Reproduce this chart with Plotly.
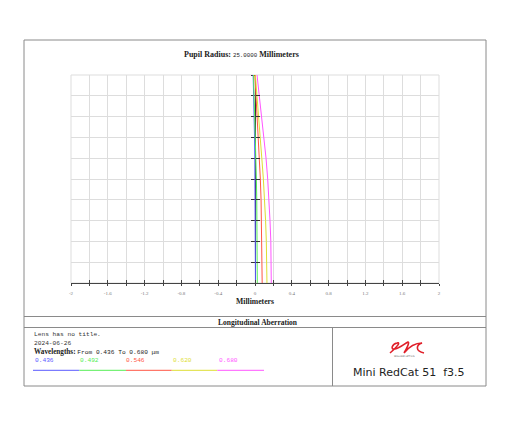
import plotly.graph_objects as go

# ---------------- data ----------------
pupil = [0.0, 0.1, 0.2, 0.3, 0.4, 0.5, 0.6, 0.7, 0.8, 0.9, 1.0]
wl_labels = ["0.436", "0.492", "0.546", "0.620", "0.680"]
wl_colors = ["#5a5aff", "#55ee55", "#ff5544", "#dede33", "#ff55ff"]
focus_436 = [0.005, 0.005, 0.004, 0.003, 0.002, 0.000, -0.002, -0.005, -0.009, -0.014, -0.020]
focus_492 = [0.025, 0.025, 0.024, 0.022, 0.019, 0.015, 0.010, 0.004, -0.003, -0.010, -0.016]
focus_546 = [0.078, 0.077, 0.075, 0.071, 0.066, 0.058, 0.048, 0.037, 0.024, 0.011, -0.002]
focus_620 = [0.130, 0.128, 0.123, 0.115, 0.105, 0.091, 0.074, 0.055, 0.034, 0.015, 0.004]
focus_680 = [0.177, 0.176, 0.172, 0.163, 0.152, 0.138, 0.120, 0.097, 0.073, 0.047, 0.022]
series = [focus_436, focus_492, focus_546, focus_620, focus_680]
x_tickvals = [round(-2 + 0.2 * i, 1) for i in range(21)]
x_ticklabels = ["-2", "", "-1.6", "", "-1.2", "", "-0.8", "", "-0.4", "", "0",
                "", "0.4", "", "0.8", "", "1.2", "", "1.6", "", "2"]

# ---------------- layout helpers ----------------
W, H = 512, 427
PL, PR, PT, PB = 71, 439, 75, 283


def px(x):
    return (x - PL) / (PR - PL)


def py(y):
    return (PB - y) / (PB - PT)


fig = go.Figure()
for vals, col, lab in zip(series, wl_colors, wl_labels):
    fig.add_trace(go.Scatter(x=vals, y=pupil, mode="lines", name=lab,
                             line=dict(color=col, width=1), showlegend=False,
                             hoverinfo="skip"))

SERIF = "Liberation Serif"
MONO = "Liberation Mono"

fig.update_layout(
    width=W, height=H,
    margin=dict(l=PL, r=W - PR, t=PT, b=H - PB, pad=0),
    paper_bgcolor="white", plot_bgcolor="white",
    showlegend=False,
    xaxis=dict(range=[-2, 2], tickmode="array", tickvals=x_tickvals,
               ticktext=x_ticklabels, showgrid=True, gridcolor="#dddddd",
               gridwidth=1, zeroline=False, showline=True, linecolor="#444444",
               linewidth=1, ticks="inside", ticklen=3, tickcolor="#444444",
               ticklabelstandoff=5,
               tickfont=dict(family=SERIF, size=5, color="#777777"),
               fixedrange=True),
    xaxis2=dict(range=[-2, 2], tickmode="array", tickvals=x_tickvals,
                overlaying="x", anchor="y", side="bottom", showgrid=False,
                zeroline=False, showline=False, showticklabels=False,
                ticks="outside", ticklen=2, tickcolor="#444444",
                fixedrange=True),
    yaxis=dict(range=[0, 1], dtick=0.1, showgrid=True, gridcolor="#dddddd",
               gridwidth=1, zeroline=False, showticklabels=False,
               anchor="free", position=0.5, showline=True, linecolor="#333333",
               linewidth=1, ticks="outside", ticklen=4, tickcolor="#333333",
               layer="below traces", fixedrange=True),
    yaxis2=dict(range=[0, 1], dtick=0.1, overlaying="y", anchor="free",
                position=0.5, showgrid=False, zeroline=False,
                showticklabels=False, showline=False, ticks="inside",
                ticklen=4, tickcolor="#333333", side="left", fixedrange=True),
)
# invisible helper traces to activate the overlay axes
fig.add_trace(go.Scatter(x=[None], y=[None], yaxis="y2", showlegend=False))
fig.add_trace(go.Scatter(x=[None], y=[None], xaxis="x2", showlegend=False))

shapes = []
BORDER = "#8a8a8a"
# outer frame
shapes.append(dict(type="rect", xref="paper", yref="paper",
                   x0=px(24), x1=px(486), y0=py(386), y1=py(40),
                   line=dict(color=BORDER, width=1)))
# plot-area light border
shapes.append(dict(type="rect", xref="paper", yref="paper",
                   x0=0, x1=1, y0=0, y1=1, layer="below",
                   line=dict(color="#dddddd", width=1)))
for yy in (316.5, 327.5):
    shapes.append(dict(type="line", xref="paper", yref="paper",
                       x0=px(24), x1=px(486), y0=py(yy), y1=py(yy),
                       line=dict(color=BORDER, width=1)))
shapes.append(dict(type="line", xref="paper", yref="paper",
                   x0=px(332.5), x1=px(332.5), y0=py(327.5), y1=py(386),
                   line=dict(color=BORDER, width=1)))
# legend colour segments
seg_x = [33, 79.3, 126, 171.7, 217.3, 264]
for i, col in enumerate(wl_colors):
    shapes.append(dict(type="line", xref="paper", yref="paper",
                       x0=px(seg_x[i]), x1=px(seg_x[i + 1]),
                       y0=py(370.3), y1=py(370.3),
                       line=dict(color=col, width=1)))


# logo swoosh (approximation)
def P(x, y):
    return f"{px(x):.5f},{py(y):.5f}"


logo = ("M " + P(390, 353) + " C " + P(397, 347) + " " + P(401, 342) + " " + P(397, 343)
        + " C " + P(392, 344) + " " + P(390, 350) + " " + P(395, 349)
        + " C " + P(400, 348) + " " + P(404, 344) + " " + P(408, 342)
        + " C " + P(410, 342) + " " + P(406, 350) + " " + P(404, 353)
        + " C " + P(408, 348) + " " + P(413, 343) + " " + P(422, 343)
        + " C " + P(416, 345) + " " + P(415, 351) + " " + P(424, 353))
shapes.append(dict(type="path", xref="paper", yref="paper", path=logo,
                   line=dict(color="#e0202a", width=1.6)))
fig.update_layout(shapes=shapes)

ann = []


def text(x, y, s, size=8, family=SERIF, color="#222222", xanchor="center"):
    ann.append(dict(x=px(x), y=py(y), xref="paper", yref="paper", text=s,
                    showarrow=False, xanchor=xanchor, yanchor="middle",
                    font=dict(family=family, size=size, color=color)))


text(241, 55, "<b>Pupil Radius:</b> <span style='font-family:Liberation Mono;font-size:5.8px'>25.0000</span> <b>Millimeters</b>",
     size=8, xanchor="center")
text(255, 301, "<b>Millimeters</b>", size=7.7)
text(258, 322, "<b>Longitudinal Aberration</b>", size=7.5)
text(32, 334, "Lens has no title.", size=6.2, family=MONO, color="#333333", xanchor="left")
text(32, 343, "2024-06-26", size=6.2, family=MONO, color="#333333", xanchor="left")
text(32, 351.7, "<b>Wavelengths:</b> <span style='font-family:Liberation Mono;font-size:6.2px'>From 0.436 To 0.680 μm</span>",
     size=7.2, color="#222222", xanchor="left")
num_x = [32.7, 78.3, 124.3, 170.7, 216.7]
for xx, lab, col in zip(num_x, wl_labels, wl_colors):
    text(xx, 360.7, lab, size=6.2, family=MONO, color=col, xanchor="left")
text(409, 372, "Mini RedCat 51  f3.5", size=11, family="DejaVu Sans", color="#222222")
text(404, 356.5, "WILLIAM OPTICS", size=2.5, family="DejaVu Sans", color="#555555")
fig.update_layout(annotations=ann)

fig.write_html("out.html", config={"displayModeBar": False},
               post_script="document.body.style.margin='0';document.body.style.padding='0';")
